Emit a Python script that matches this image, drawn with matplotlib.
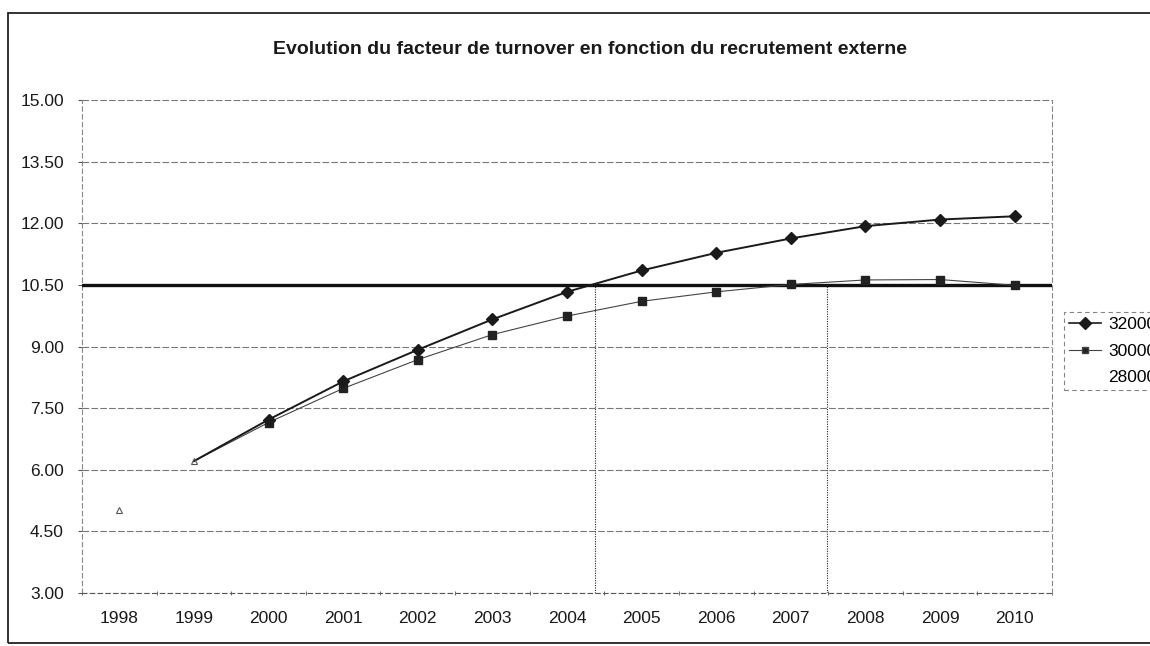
import matplotlib
matplotlib.use("Agg")
import matplotlib.pyplot as plt
import numpy as np
from matplotlib.lines import Line2D
from matplotlib.patches import Rectangle

# ---- data ----
years = ["1998", "1999", "2000", "2001", "2002", "2003", "2004",
         "2005", "2006", "2007", "2008", "2009", "2010"]
s32000 = [5.03, 6.21, 7.22, 8.15, 8.92, 9.66, 10.33, 10.85, 11.28, 11.63, 11.93, 12.09, 12.17]
s30000 = [5.03, 6.21, 7.15, 7.98, 8.68, 9.29, 9.74, 10.10, 10.33, 10.51, 10.62, 10.63, 10.49]
series_names = ["32000", "30000", "28000"]
threshold = 10.50
crossings = [6.37, 9.48]          # category positions of the vertical marker lines
y_ticks = [3.00, 4.50, 6.00, 7.50, 9.00, 10.50, 12.00, 13.50, 15.00]
title = "Evolution du facteur de turnover en fonction du recrutement externe"

plt.rcParams['font.family'] = ['Liberation Sans', 'DejaVu Sans']

W, H = 1150, 646
fig = plt.figure(figsize=(W / 100, H / 100), dpi=100)
ax = fig.add_axes([82 / W, 1 - 593 / H, (1052 - 82) / W, (593 - 100) / H])

x = np.arange(len(years))

# grid
for yv in y_ticks:
    ax.axhline(yv, color="#777777", lw=0.8, ls=(0, (6, 2)), zorder=1)

# threshold line
ax.axhline(threshold, color="#111111", lw=2.4, zorder=3)

# vertical marker lines
for cx in crossings:
    ax.plot([cx, cx], [y_ticks[0], threshold], color="#222222", lw=0.8,
            ls=(0, (1, 1.2)), zorder=2)

# series (first segment lost in the scan: faint markers only)
ax.plot(x[1:], s32000[1:], color="#1a1a1a", lw=1.4, marker="D", ms=6.5,
        mfc="#1a1a1a", mec="#1a1a1a", zorder=5, markevery=list(range(1, 12)))
ax.plot(x[1:], s30000[1:], color="#444444", lw=0.8, marker="s", ms=5.5,
        mfc="#222222", mec="#222222", zorder=4, markevery=list(range(1, 12)))
ax.plot(x[:2], s32000[:2], ls="none", marker="^", ms=4, mfc="none",
        mec="#555555", mew=0.8, zorder=5)

ax.set_xlim(-0.5, len(years) - 0.5)
ax.set_ylim(3, 15)
ax.set_yticks(y_ticks)
ax.set_yticklabels([f"{v:.2f}" for v in y_ticks])
ax.set_xticks(x)
ax.set_xticklabels(years)
ax.set_xticks(np.arange(-0.5, len(years), 1), minor=True)
ax.tick_params(axis="x", which="major", length=0, pad=13, labelsize=12.5, colors="#1a1a1a")
ax.tick_params(axis="x", which="minor", length=3, direction="inout", color="#555555")
ax.tick_params(axis="y", length=3, pad=10, labelsize=12.5, colors="#1a1a1a", color="#555555")

for side in ["left", "right", "bottom"]:
    ax.spines[side].set_linestyle((0, (4, 3)))
    ax.spines[side].set_color("#888888")
    ax.spines[side].set_linewidth(0.8)
ax.spines["top"].set_visible(False)
ax.spines["bottom"].set_color("#555555")

fig.text(590 / W, 1 - 50 / H, title, ha="center", va="center",
         fontsize=14, fontweight="bold", color="#1a1a1a")

# legend (partly cut off by the image edge, as in the reference)
handles = [
    Line2D([], [], color="#1a1a1a", lw=1.2, marker="D", ms=6, mfc="#1a1a1a"),
    Line2D([], [], color="#444444", lw=0.8, marker="s", ms=5, mfc="#222222"),
    Line2D([], [], color="none"),
]
leg = fig.legend(handles, series_names, loc="upper left",
                 bbox_to_anchor=(1064 / W, 1 - 312 / H), frameon=True,
                 fontsize=12.5, handlelength=1.85, handletextpad=0.4,
                 borderpad=0.3, borderaxespad=0, labelspacing=0.65,
                 fancybox=False)
leg.get_frame().set_edgecolor("#666666")
leg.get_frame().set_linestyle((0, (4, 3)))
leg.get_frame().set_linewidth(0.8)

# outer chart border
fig.patches.append(Rectangle((8 / W, 1 - 643 / H), 1.2, (643 - 13) / H,
                             transform=fig.transFigure, fill=False,
                             ec="#222222", lw=1.3))

fig.savefig("out.png", dpi=100)
